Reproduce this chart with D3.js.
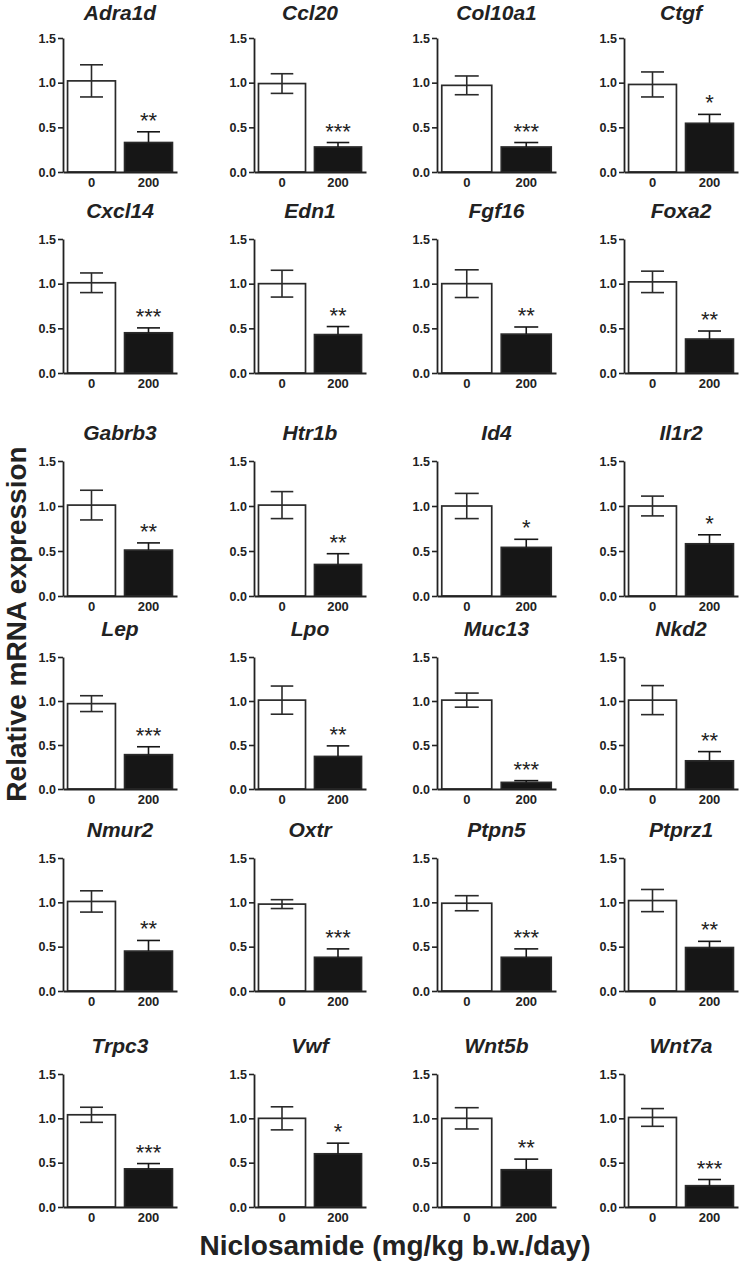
<!DOCTYPE html>
<html><head><meta charset="utf-8">
<script src="https://cdn.jsdelivr.net/npm/d3@7"></script>
<style>body{margin:0;background:#fff}svg{display:block}</style>
</head><body><svg id="c" width="747" height="1262"></svg>
<script>
// ---------- data ----------
const genes = ["Adra1d","Ccl20","Col10a1","Ctgf","Cxcl14","Edn1","Fgf16","Foxa2",
  "Gabrb3","Htr1b","Id4","Il1r2","Lep","Lpo","Muc13","Nkd2",
  "Nmur2","Oxtr","Ptpn5","Ptprz1","Trpc3","Vwf","Wnt5b","Wnt7a"];
const groups = ["0","200"];
const controlMean = [1.02,0.99,0.97,0.98,1.01,1.00,1.00,1.02,1.01,1.01,1.00,1.00,0.97,1.01,1.01,1.01,1.01,0.98,0.99,1.02,1.04,1.00,1.00,1.01];
const controlSem  = [0.18,0.11,0.105,0.14,0.11,0.15,0.155,0.12,0.165,0.15,0.14,0.11,0.09,0.16,0.08,0.165,0.12,0.05,0.085,0.125,0.085,0.13,0.12,0.10];
const treatedMean = [0.33,0.28,0.28,0.545,0.45,0.43,0.435,0.38,0.51,0.35,0.54,0.58,0.39,0.37,0.075,0.32,0.45,0.38,0.38,0.49,0.43,0.60,0.42,0.24];
const treatedSem  = [0.12,0.05,0.05,0.10,0.055,0.09,0.08,0.09,0.08,0.12,0.09,0.10,0.09,0.12,0.02,0.105,0.12,0.095,0.095,0.07,0.06,0.12,0.12,0.07];
const stars = ["**","***","***","*","***","**","**","**","**","**","*","*","***","**","***","**","**","***","***","**","***","*","**","***"];
const yTicks = [0,0.5,1.0,1.5];
const xTitle = "Niclosamide (mg/kg b.w./day)";
const yTitle = "Relative mRNA expression";

// ---------- layout ----------
const colX = [[63,177],[254,366],[437,556],[624,738]];
const rowY = [[38,172],[239,373],[461,596],[657,789],[858,991],[1074,1207]];
const FONT = "'Liberation Sans', Arial, Helvetica, sans-serif";
const INK = "#222";

const svg = d3.select("#c");

genes.forEach((g, i) => {
  const r = Math.floor(i / 4), c = i % 4;
  const [x0, x1] = colX[c];
  const [yTop, yBot] = rowY[r];
  const x = d3.scaleBand().domain(groups).range([x0, x1]).paddingInner(0.16).paddingOuter(0.08);
  const y = d3.scaleLinear().domain([0, 1.5]).range([yBot, yTop]);
  const p = svg.append("g");

  const rows = [
    {k: "0", m: controlMean[i], s: controlSem[i], fill: "#fff"},
    {k: "200", m: treatedMean[i], s: treatedSem[i], fill: "#161616"}
  ];

  // bars
  p.selectAll("rect").data(rows).join("rect")
    .attr("x", d => x(d.k)).attr("width", x.bandwidth())
    .attr("y", d => y(d.m)).attr("height", d => y(0) - y(d.m))
    .attr("fill", d => d.fill).attr("stroke", "#2a2a2a").attr("stroke-width", 1.7);

  // error bars
  const cap = x.bandwidth() * 0.24;
  rows.forEach(d => {
    const cx = x(d.k) + x.bandwidth() / 2;
    const col = d.k === "0" ? "#2a2a2a" : "#161616";
    const lo = d.k === "0" ? d.m - d.s : d.m;
    p.append("line").attr("x1", cx).attr("x2", cx).attr("y1", y(d.m + d.s)).attr("y2", y(lo))
      .attr("stroke", col).attr("stroke-width", 1.6);
    p.append("line").attr("x1", cx - cap).attr("x2", cx + cap).attr("y1", y(d.m + d.s)).attr("y2", y(d.m + d.s))
      .attr("stroke", col).attr("stroke-width", 1.6);
    if (d.k === "0") {
      p.append("line").attr("x1", cx - cap).attr("x2", cx + cap).attr("y1", y(d.m - d.s)).attr("y2", y(d.m - d.s))
        .attr("stroke", col).attr("stroke-width", 1.6);
    }
  });

  // significance stars
  p.append("text")
    .attr("x", x("200") + x.bandwidth() / 2)
    .attr("y", y(treatedMean[i] + treatedSem[i]) - 4)
    .attr("text-anchor", "middle").attr("font-family", FONT).attr("font-size", 22)
    .attr("fill", INK).text(stars[i]);

  // y axis
  const ya = p.append("g").attr("transform", `translate(${x0},0)`)
    .call(d3.axisLeft(y).tickValues(yTicks).tickFormat(d3.format(".1f")).tickSize(5).tickSizeOuter(0).tickPadding(2));
  ya.select(".domain").attr("stroke", INK).attr("stroke-width", 1.8);
  ya.selectAll(".tick line").attr("stroke", INK).attr("stroke-width", 1.6);
  ya.selectAll(".tick text").attr("font-family", FONT).attr("font-weight", "bold").attr("font-size", 12.5).attr("fill", INK);

  // x axis
  const xa = p.append("g").attr("transform", `translate(0,${yBot})`)
    .call(d3.axisBottom(x).tickSize(0).tickSizeOuter(0).tickPadding(6));
  xa.select(".domain").attr("stroke", INK).attr("stroke-width", 1.8);
  xa.selectAll(".tick text").attr("font-family", FONT).attr("font-weight", "bold").attr("font-size", 13).attr("fill", INK);

  // title
  p.append("text").attr("x", (x0 + x1) / 2).attr("y", Math.max(yTop - 21, 20))
    .attr("text-anchor", "middle").attr("font-family", FONT).attr("font-weight", "bold")
    .attr("font-style", "italic").attr("font-size", 21).attr("fill", INK).text(g);
});

// axis titles
svg.append("text").attr("x", 395).attr("y", 1255).attr("text-anchor", "middle")
  .attr("font-family", FONT).attr("font-weight", "bold").attr("font-size", 28).attr("fill", INK).text(xTitle);
svg.append("text").attr("transform", "translate(26,624) rotate(-90)").attr("text-anchor", "middle")
  .attr("font-family", FONT).attr("font-weight", "bold").attr("font-size", 28).attr("fill", INK).text(yTitle);
</script></body></html>
